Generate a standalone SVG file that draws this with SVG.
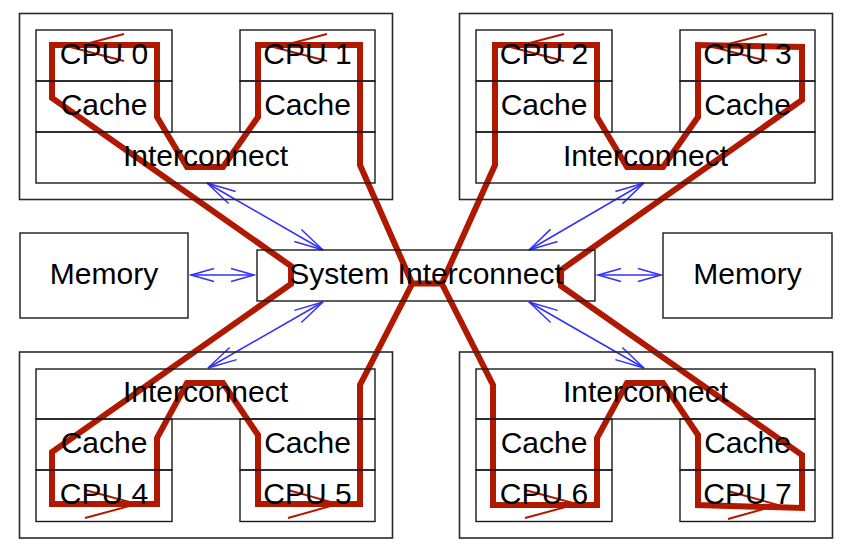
<svg xmlns="http://www.w3.org/2000/svg" width="852" height="558" viewBox="0 0 852 558">
<style>
.box{fill:none;stroke:#1a1a1a;stroke-width:1.4}
.outer{fill:none;stroke:#2a2a2a;stroke-width:1.6}
.t{font-family:"Liberation Sans",Arial,Helvetica,sans-serif;font-size:30px;fill:#000;text-anchor:middle}
.red{fill:none;stroke:#b01800;stroke-width:6;stroke-linejoin:miter;stroke-miterlimit:10}
.redthin{fill:none;stroke:#b01800;stroke-width:1.9}
.blue{fill:none;stroke:#3030ff;stroke-width:1.5}
.bh{marker-start:url(#ah);marker-end:url(#ah)}
.bd{marker-start:url(#ad);marker-end:url(#ad)}
</style>
<defs>
<marker id="ah" markerUnits="userSpaceOnUse" orient="auto-start-reverse" overflow="visible" markerWidth="1" markerHeight="1" refX="0" refY="0"><path d="M-23,-6.5L0,0L-23,6.5" fill="none" stroke="#3030ff" stroke-width="1.5"/></marker>
<marker id="ad" markerUnits="userSpaceOnUse" orient="auto-start-reverse" overflow="visible" markerWidth="1" markerHeight="1" refX="0" refY="0"><path d="M-29,-7L0,0L-29,7" fill="none" stroke="#3030ff" stroke-width="1.5"/></marker>
</defs>
<rect width="852" height="558" fill="#fff"/>
<g id="connectors">
<path class="red" d="M412,283 L360,165 L360,45 L258,45 L258,117 L223,167 L187,167 L157,117 L157,45 L52,45 L52,98 L291,266 L291,284 L52,452 L52,504 L157,504 L157,438 L187,383 L223,383 L258,435 L258,504 L360,504 L360,385 L412,284"/>
<path class="red" d="M409,283.5 L445,283.5"/>
<path class="red" d="M442,283 L495,165 L495,45 L597,45 L597,117 L627,167 L663,167 L698,117 L698,45 L802,47 L802,100 L561,270 L561,286 L802,455 L802,508 L698,505 L698,435 L663,383 L627,383 L597,438 L597,505 L493,505 L493,385 L442,284"/>
<path class="redthin" d="M124,34 L72,47.5 L124,61"/>
<path class="redthin" d="M327,34 L275,47.5 L327,61"/>
<path class="redthin" d="M564,34 L512,47.5 L564,61"/>
<path class="redthin" d="M767,34 L715,47.5 L767,61"/>
<path class="redthin" d="M85,490 L137,504 L85,518"/>
<path class="redthin" d="M288,490 L338,504 L288,518"/>
<path class="redthin" d="M525,490 L577,504 L525,518"/>
<path class="redthin" d="M728,491 L778,505 L728,519"/>
<line class="blue bh" x1="191" y1="275" x2="254" y2="275"/>
<line class="blue bh" x1="598" y1="275" x2="661" y2="275"/>
<line class="blue bd" x1="207" y1="183" x2="323" y2="250"/>
<line class="blue bd" x1="644" y1="183" x2="529" y2="250"/>
<line class="blue bd" x1="323" y1="302" x2="208" y2="368"/>
<line class="blue bd" x1="529" y1="302" x2="644" y2="368"/>
</g>
<g id="board-tl"><rect class="outer" x="19.5" y="13.5" width="373" height="186"/></g>
<g id="board-tr"><rect class="outer" x="459.5" y="13.5" width="373" height="186"/></g>
<g id="board-bl"><rect class="outer" x="19.5" y="352" width="373" height="186"/></g>
<g id="board-br"><rect class="outer" x="459.5" y="352" width="373" height="186"/></g>
<g id="cpu0"><rect class="box" x="36" y="30" width="136" height="51"/><text class="t" x="104" y="64">CPU 0</text></g>
<g id="cache0"><rect class="box" x="36" y="81" width="136" height="51"/><text class="t" x="104" y="115">Cache</text></g>
<g id="cpu1"><rect class="box" x="240" y="30" width="135" height="51"/><text class="t" x="307.5" y="64">CPU 1</text></g>
<g id="cache1"><rect class="box" x="240" y="81" width="135" height="51"/><text class="t" x="307.5" y="115">Cache</text></g>
<g id="ic-tl"><rect class="box" x="36" y="132" width="339" height="51"/><text class="t" x="205.5" y="166">Interconnect</text></g>
<g id="cpu2"><rect class="box" x="476" y="30" width="136" height="51"/><text class="t" x="544" y="64">CPU 2</text></g>
<g id="cache2"><rect class="box" x="476" y="81" width="136" height="51"/><text class="t" x="544" y="115">Cache</text></g>
<g id="cpu3"><rect class="box" x="680" y="30" width="135" height="51"/><text class="t" x="747.5" y="64">CPU 3</text></g>
<g id="cache3"><rect class="box" x="680" y="81" width="135" height="51"/><text class="t" x="747.5" y="115">Cache</text></g>
<g id="ic-tr"><rect class="box" x="476" y="132" width="339" height="51"/><text class="t" x="645.5" y="166">Interconnect</text></g>
<g id="ic-bl"><rect class="box" x="36" y="369" width="339" height="50"/><text class="t" x="205.5" y="402">Interconnect</text></g>
<g id="cache4"><rect class="box" x="36" y="419" width="136" height="51"/><text class="t" x="104" y="453">Cache</text></g>
<g id="cpu4"><rect class="box" x="36" y="470" width="136" height="51.5"/><text class="t" x="104" y="504">CPU 4</text></g>
<g id="cache5"><rect class="box" x="240" y="419" width="135" height="51"/><text class="t" x="307.5" y="453">Cache</text></g>
<g id="cpu5"><rect class="box" x="240" y="470" width="135" height="51.5"/><text class="t" x="307.5" y="504">CPU 5</text></g>
<g id="ic-br"><rect class="box" x="476" y="369" width="339" height="50"/><text class="t" x="645.5" y="402">Interconnect</text></g>
<g id="cache6"><rect class="box" x="476" y="419" width="136" height="51"/><text class="t" x="544" y="453">Cache</text></g>
<g id="cpu6"><rect class="box" x="476" y="470" width="136" height="51.5"/><text class="t" x="544" y="504">CPU 6</text></g>
<g id="cache7"><rect class="box" x="680" y="419" width="135" height="51"/><text class="t" x="747.5" y="453">Cache</text></g>
<g id="cpu7"><rect class="box" x="680" y="470" width="135" height="51.5"/><text class="t" x="747.5" y="504">CPU 7</text></g>
<g id="memory-l"><rect class="box" x="20" y="233" width="168" height="85"/><text class="t" x="104" y="284">Memory</text></g>
<g id="memory-r"><rect class="box" x="663" y="233" width="169" height="85"/><text class="t" x="747.5" y="284">Memory</text></g>
<g id="system-ic"><rect class="box" x="257" y="250" width="338" height="51"/><text class="t" x="426" y="284">System Interconnect</text></g>
</svg>
